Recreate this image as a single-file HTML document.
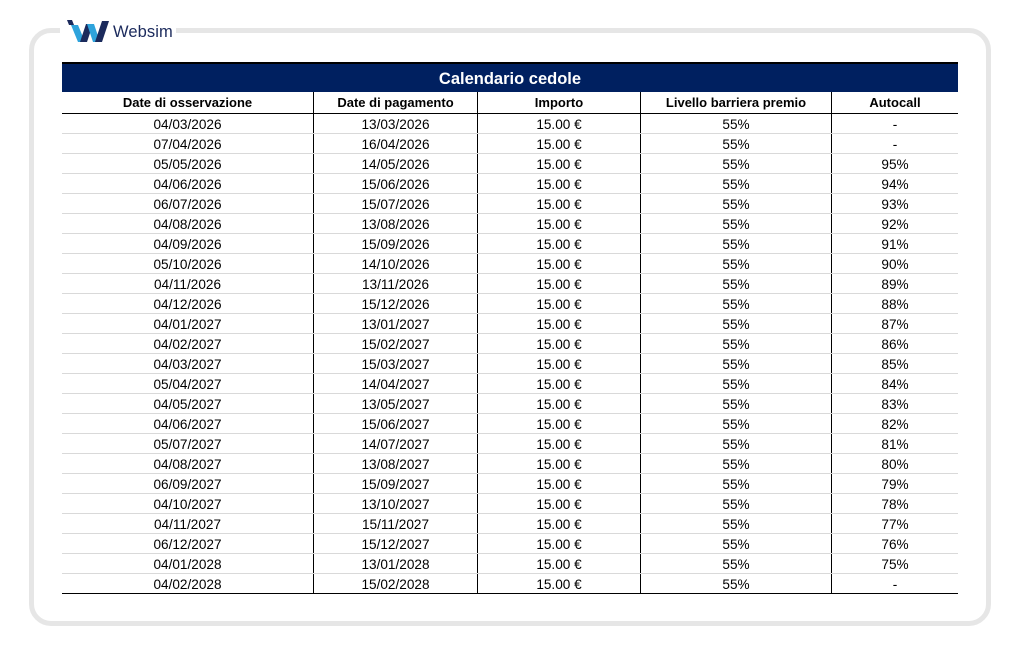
<!DOCTYPE html>
<html>
<head>
<meta charset="utf-8">
<style>
  html,body{margin:0;padding:0;background:#fff;}
  body{width:1020px;height:656px;position:relative;overflow:hidden;font-family:"Liberation Sans",Arial,sans-serif;}
  .frame{position:absolute;left:29px;top:28px;width:962px;height:598px;box-sizing:border-box;border:5px solid #e6e6e6;border-radius:22px;}
  .logo-gap{position:absolute;left:60px;top:18px;width:116px;height:26px;background:#fff;}
  .logo-text{position:absolute;left:113px;top:22px;font-size:16.5px;color:#1b2a5c;line-height:20px;letter-spacing:0.1px;}
  .tbl{position:absolute;left:62px;top:62px;width:896px;}
  .title{height:30px;box-sizing:border-box;border-top:2px solid #000;background:#002060;color:#fff;font-weight:bold;font-size:16.5px;text-align:center;line-height:30px;}
  .row{display:flex;height:20px;box-sizing:border-box;border-bottom:1px solid #d9d9d9;}
  .row.head{height:22px;border-bottom:1px solid #000;font-weight:bold;font-size:13px;}
  .row.last{border-bottom:1px solid #000;}
  .c{box-sizing:border-box;text-align:center;border-right:1px solid #000;line-height:21px;font-size:13.6px;color:#000;white-space:nowrap;}
  .head .c{line-height:21px;font-size:13px;}
  .c1{width:252px}.c2{width:164px}.c3{width:163px}.c4{width:191px}.c5{width:126px;border-right:none;}
</style>
</head>
<body>
<div class="frame"></div>
<div class="logo-gap"></div>
<svg style="position:absolute;left:67px;top:20px" width="43" height="22" viewBox="0 0 43 22">
  <polygon points="0,0 5,0 7,5 2,5" fill="#1b2a5c"/>
  <polygon points="4,5 11,5 18,22 11,22" fill="#2ea3dc"/>
  <polygon points="13,22 20,22 26,4 19,4" fill="#1b2a5c"/>
  <polygon points="20,4 27,4 33,22 26,22" fill="#2ea3dc"/>
  <polygon points="28,22 35,22 42,1 35,1" fill="#1b2a5c"/>
</svg>
<div class="logo-text">Websim</div>

<div class="tbl">
  <div class="title">Calendario cedole</div>
  <div class="row head"><div class="c c1">Date di osservazione</div><div class="c c2">Date di pagamento</div><div class="c c3">Importo</div><div class="c c4">Livello barriera premio</div><div class="c c5">Autocall</div></div>
  <div class="row"><div class="c c1">04/03/2026</div><div class="c c2">13/03/2026</div><div class="c c3">15.00 €</div><div class="c c4">55%</div><div class="c c5">-</div></div>
  <div class="row"><div class="c c1">07/04/2026</div><div class="c c2">16/04/2026</div><div class="c c3">15.00 €</div><div class="c c4">55%</div><div class="c c5">-</div></div>
  <div class="row"><div class="c c1">05/05/2026</div><div class="c c2">14/05/2026</div><div class="c c3">15.00 €</div><div class="c c4">55%</div><div class="c c5">95%</div></div>
  <div class="row"><div class="c c1">04/06/2026</div><div class="c c2">15/06/2026</div><div class="c c3">15.00 €</div><div class="c c4">55%</div><div class="c c5">94%</div></div>
  <div class="row"><div class="c c1">06/07/2026</div><div class="c c2">15/07/2026</div><div class="c c3">15.00 €</div><div class="c c4">55%</div><div class="c c5">93%</div></div>
  <div class="row"><div class="c c1">04/08/2026</div><div class="c c2">13/08/2026</div><div class="c c3">15.00 €</div><div class="c c4">55%</div><div class="c c5">92%</div></div>
  <div class="row"><div class="c c1">04/09/2026</div><div class="c c2">15/09/2026</div><div class="c c3">15.00 €</div><div class="c c4">55%</div><div class="c c5">91%</div></div>
  <div class="row"><div class="c c1">05/10/2026</div><div class="c c2">14/10/2026</div><div class="c c3">15.00 €</div><div class="c c4">55%</div><div class="c c5">90%</div></div>
  <div class="row"><div class="c c1">04/11/2026</div><div class="c c2">13/11/2026</div><div class="c c3">15.00 €</div><div class="c c4">55%</div><div class="c c5">89%</div></div>
  <div class="row"><div class="c c1">04/12/2026</div><div class="c c2">15/12/2026</div><div class="c c3">15.00 €</div><div class="c c4">55%</div><div class="c c5">88%</div></div>
  <div class="row"><div class="c c1">04/01/2027</div><div class="c c2">13/01/2027</div><div class="c c3">15.00 €</div><div class="c c4">55%</div><div class="c c5">87%</div></div>
  <div class="row"><div class="c c1">04/02/2027</div><div class="c c2">15/02/2027</div><div class="c c3">15.00 €</div><div class="c c4">55%</div><div class="c c5">86%</div></div>
  <div class="row"><div class="c c1">04/03/2027</div><div class="c c2">15/03/2027</div><div class="c c3">15.00 €</div><div class="c c4">55%</div><div class="c c5">85%</div></div>
  <div class="row"><div class="c c1">05/04/2027</div><div class="c c2">14/04/2027</div><div class="c c3">15.00 €</div><div class="c c4">55%</div><div class="c c5">84%</div></div>
  <div class="row"><div class="c c1">04/05/2027</div><div class="c c2">13/05/2027</div><div class="c c3">15.00 €</div><div class="c c4">55%</div><div class="c c5">83%</div></div>
  <div class="row"><div class="c c1">04/06/2027</div><div class="c c2">15/06/2027</div><div class="c c3">15.00 €</div><div class="c c4">55%</div><div class="c c5">82%</div></div>
  <div class="row"><div class="c c1">05/07/2027</div><div class="c c2">14/07/2027</div><div class="c c3">15.00 €</div><div class="c c4">55%</div><div class="c c5">81%</div></div>
  <div class="row"><div class="c c1">04/08/2027</div><div class="c c2">13/08/2027</div><div class="c c3">15.00 €</div><div class="c c4">55%</div><div class="c c5">80%</div></div>
  <div class="row"><div class="c c1">06/09/2027</div><div class="c c2">15/09/2027</div><div class="c c3">15.00 €</div><div class="c c4">55%</div><div class="c c5">79%</div></div>
  <div class="row"><div class="c c1">04/10/2027</div><div class="c c2">13/10/2027</div><div class="c c3">15.00 €</div><div class="c c4">55%</div><div class="c c5">78%</div></div>
  <div class="row"><div class="c c1">04/11/2027</div><div class="c c2">15/11/2027</div><div class="c c3">15.00 €</div><div class="c c4">55%</div><div class="c c5">77%</div></div>
  <div class="row"><div class="c c1">06/12/2027</div><div class="c c2">15/12/2027</div><div class="c c3">15.00 €</div><div class="c c4">55%</div><div class="c c5">76%</div></div>
  <div class="row"><div class="c c1">04/01/2028</div><div class="c c2">13/01/2028</div><div class="c c3">15.00 €</div><div class="c c4">55%</div><div class="c c5">75%</div></div>
  <div class="row last"><div class="c c1">04/02/2028</div><div class="c c2">15/02/2028</div><div class="c c3">15.00 €</div><div class="c c4">55%</div><div class="c c5">-</div></div>
</div>
</body>
</html>
